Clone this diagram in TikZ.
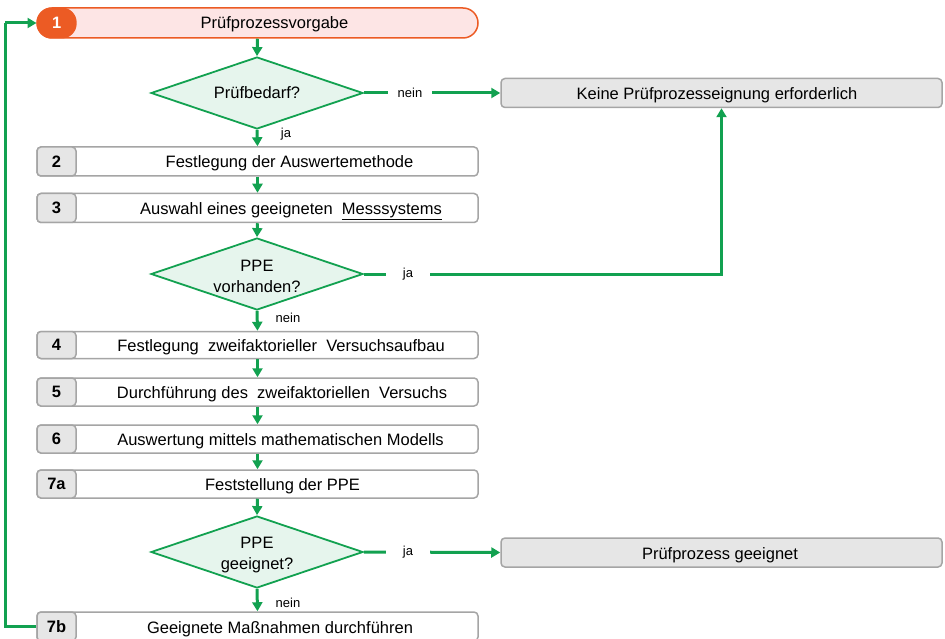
\documentclass[tikz,border=0pt]{standalone}
\usepackage{fontspec}
\setmainfont{Liberation Sans}
\usetikzlibrary{arrows.meta,shapes.geometric}
\definecolor{flowgreen}{HTML}{12A150}
\definecolor{decfill}{HTML}{E6F5ED}
\definecolor{startorange}{HTML}{EC5B24}
\definecolor{startfill}{HTML}{FDE5E5}
\definecolor{boxgray}{HTML}{A5A5A5}
\definecolor{cellgray}{HTML}{E6E6E6}
\tikzset{
  every node/.style={font=\fontsize{16.5}{21}\selectfont, text=black},
  txt/.style={anchor=base, inner sep=0pt},
  stepbox/.style={draw=boxgray, line width=1.5pt, fill=white, rounded corners=4pt,
    minimum width=441pt, minimum height=29pt, inner sep=0pt},
  numcell/.style={draw=boxgray, line width=1.5pt, fill=cellgray, rounded corners=4pt,
    minimum width=39pt, minimum height=29pt, inner sep=0pt, anchor=west,
    font=\fontsize{16.5}{21}\selectfont\bfseries},
  endbox/.style={draw=boxgray, line width=1.5pt, fill=cellgray, rounded corners=4pt,
    minimum width=441pt, minimum height=29pt, inner sep=0pt},
  decision/.style={diamond, draw=flowgreen, line width=1.8pt, fill=decfill,
    minimum width=212pt, minimum height=72pt, inner sep=0pt},
  flow/.style={draw=flowgreen, line width=3pt, -{Triangle[length=9pt,width=10pt]}},
  flowline/.style={draw=flowgreen, line width=3pt},
  small/.style={font=\fontsize{13}{15}\selectfont},
  gaplabel/.style={small, fill=white, inner sep=0pt, minimum width=44pt, minimum height=14pt},
}
\begin{document}
\begin{tikzpicture}[x=1pt,y=-1pt]
\useasboundingbox (0,0) rectangle (945,639);

% start box with orange badge
\node[draw=startorange, line width=1.5pt, fill=startfill, rounded corners=15pt,
  minimum width=441pt, minimum height=30pt, inner sep=0pt] (b1) at (257.5,23) {};
\node[fill=startorange, rounded corners=15pt, minimum width=40pt, minimum height=31pt,
  inner sep=0pt, anchor=west, font=\fontsize{16.5}{21}\selectfont\bfseries]
  (n1) at (36.5,23) {\textcolor{white}{1}};
\node[txt] (t1) at (274.5,28.5) {Prüfprozessvorgabe};

% first decision
\node[decision] (d1) at (257,93) {};
\node[txt] (dt1) at (257,98.5) {Prüfbedarf?};

% steps 2 and 3
\node[stepbox] (b2) at (257.5,161.5) {};
\node[numcell] (n2) at (b2.west) {2};
\node[txt] (t2) at (289.5,168) {Festlegung der Auswertemethode};
\node[stepbox] (b3) at (257.5,208) {};
\node[numcell] (n3) at (b3.west) {3};
\node[txt] (t3) at (291,214.5) {Auswahl eines geeigneten\ \ \underline{Messsystems}};

% second decision
\node[decision] (d2) at (257,274) {};
\node[align=center] (dt2) at (257,276.5) {PPE\\vorhanden?};

% steps 4 to 7a
\node[stepbox, minimum height=27pt] (b4) at (257.5,345) {};
\node[numcell, minimum height=27pt] (n4) at (b4.west) {4};
\node[txt] (t4) at (281,351) {Festlegung\ \ zweifaktorieller\ \ Versuchsaufbau};
\node[stepbox, minimum height=28pt] (b5) at (257.5,392) {};
\node[numcell, minimum height=28pt] (n5) at (b5.west) {5};
\node[txt] (t5) at (282,398) {Durchführung des\ \ zweifaktoriellen\ \ Versuchs};
\node[stepbox, minimum height=28pt] (b6) at (257.5,439) {};
\node[numcell, minimum height=28pt] (n6) at (b6.west) {6};
\node[txt] (t6) at (280.5,445) {Auswertung mittels mathematischen Modells};
\node[stepbox, minimum height=28pt] (b7a) at (257.5,484) {};
\node[numcell, minimum height=28pt] (n7a) at (b7a.west) {7a};
\node[txt] (t7a) at (282.5,490) {Feststellung der PPE};

% third decision
\node[decision] (d3) at (257,552) {};
\node[align=center] (dt3) at (257,555) {PPE\\geeignet?};

% step 7b
\node[stepbox] (b7b) at (257.5,626.5) {};
\node[numcell] (n7b) at (b7b.west) {7b};
\node[txt] (t7b) at (280,633) {Geeignete Maßnahmen durchführen};

% outcome boxes
\node[endbox] (e1) at (721.5,93) {};
\node[txt] (te1) at (717,99.5) {Keine Prüfprozesseignung erforderlich};
\node[endbox] (e2) at (721.5,552.5) {};
\node[txt] (te2) at (720,559) {Prüfprozess geeignet};

% main vertical flow
\draw[flow] (b1.south) -- (d1.north);
\draw[flow] (d1.south) -- (b2.north);
\draw[flow] (b2.south) -- (b3.north);
\draw[flow] (b3.south) -- (d2.north);
\draw[flow] (d2.south) -- (b4.north);
\draw[flow] (b4.south) -- (b5.north);
\draw[flow] (b5.south) -- (b6.north);
\draw[flow] (b6.south) -- (b7a.north);
\draw[flow] (b7a.south) -- (d3.north);
\draw[flow] (d3.south) -- (b7b.north);

\node[small] (lja1) at (286,134) {ja};
\node[small] (lnein2) at (288,318) {nein};
\node[small] (lnein3) at (288,603) {nein};

% side branches
\draw[flow] (d1.east) -- (e1.west);
\node[gaplabel] (lnein1) at (410,93) {nein};
\coordinate (c2) at (e1.south |- d2.east);
\draw[flow] (d2.east) -- (c2) -- (e1.south);
\node[gaplabel] (lja2) at (408,274) {ja};
\draw[flow] (d3.east) -- (e2.west);
\node[gaplabel] (lja3) at (408,552) {ja};

% feedback loop
\coordinate (lb) at (5,626.5);
\coordinate (lt) at (5,23);
\draw[flowline] (n7b.west) -- (lb) -- (lt);
\draw[flow] (lt) -- (n1.west);
\end{tikzpicture}
\end{document}
